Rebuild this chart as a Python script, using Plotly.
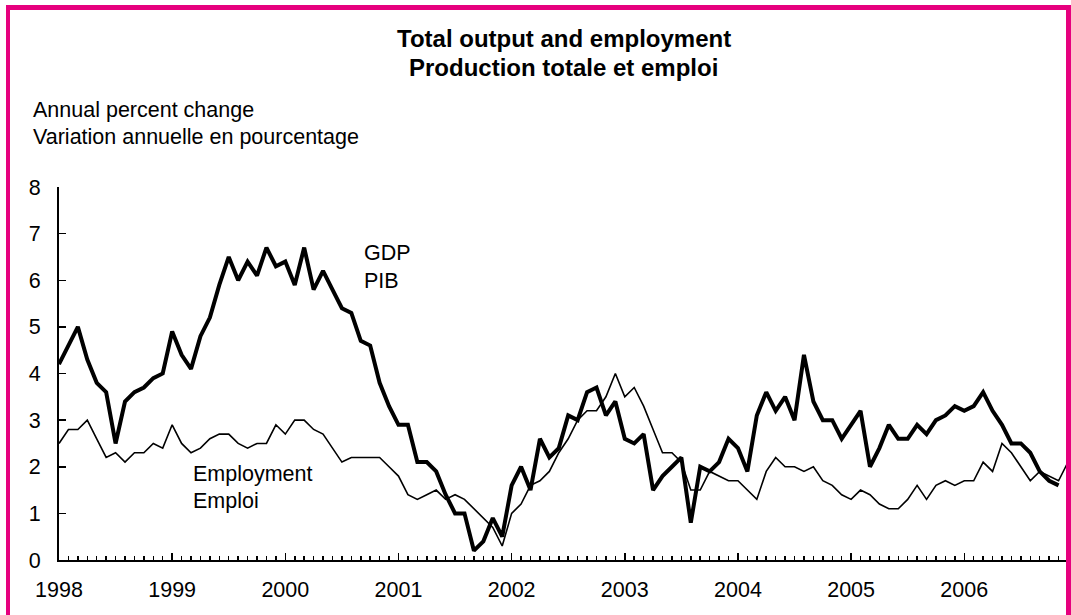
import plotly.graph_objects as go

years = ["1998", "1999", "2000", "2001", "2002", "2003", "2004", "2005", "2006"]

gdp = [4.2, 4.6, 5.0, 4.3, 3.8, 3.6, 2.5, 3.4, 3.6, 3.7, 3.9, 4.0,
       4.9, 4.4, 4.1, 4.8, 5.2, 5.9, 6.5, 6.0, 6.4, 6.1, 6.7, 6.3,
       6.4, 5.9, 6.7, 5.8, 6.2, 5.8, 5.4, 5.3, 4.7, 4.6, 3.8, 3.3,
       2.9, 2.9, 2.1, 2.1, 1.9, 1.4, 1.0, 1.0, 0.2, 0.4, 0.9, 0.5,
       1.6, 2.0, 1.5, 2.6, 2.2, 2.4, 3.1, 3.0, 3.6, 3.7, 3.1, 3.4,
       2.6, 2.5, 2.7, 1.5, 1.8, 2.0, 2.2, 0.8, 2.0, 1.9, 2.1, 2.6,
       2.4, 1.9, 3.1, 3.6, 3.2, 3.5, 3.0, 4.4, 3.4, 3.0, 3.0, 2.6,
       2.9, 3.2, 2.0, 2.4, 2.9, 2.6, 2.6, 2.9, 2.7, 3.0, 3.1, 3.3,
       3.2, 3.3, 3.6, 3.2, 2.9, 2.5, 2.5, 2.3, 1.9, 1.7, 1.6]

employment = [2.5, 2.8, 2.8, 3.0, 2.6, 2.2, 2.3, 2.1, 2.3, 2.3, 2.5, 2.4,
              2.9, 2.5, 2.3, 2.4, 2.6, 2.7, 2.7, 2.5, 2.4, 2.5, 2.5, 2.9,
              2.7, 3.0, 3.0, 2.8, 2.7, 2.4, 2.1, 2.2, 2.2, 2.2, 2.2, 2.0,
              1.8, 1.4, 1.3, 1.4, 1.5, 1.3, 1.4, 1.3, 1.1, 0.9, 0.7, 0.3,
              1.0, 1.2, 1.6, 1.7, 1.9, 2.3, 2.6, 3.0, 3.2, 3.2, 3.5, 4.0,
              3.5, 3.7, 3.3, 2.8, 2.3, 2.3, 2.1, 1.5, 1.5, 1.9, 1.8, 1.7,
              1.7, 1.5, 1.3, 1.9, 2.2, 2.0, 2.0, 1.9, 2.0, 1.7, 1.6, 1.4,
              1.3, 1.5, 1.4, 1.2, 1.1, 1.1, 1.3, 1.6, 1.3, 1.6, 1.7, 1.6,
              1.7, 1.7, 2.1, 1.9, 2.5, 2.3, 2.0, 1.7, 1.9, 1.8, 1.7, 2.1]

months_gdp = list(range(len(gdp)))
months_emp = list(range(len(employment)))
year_ticks = [12 * i for i in range(len(years))]

W, H = 1071, 615
L, R, T, B = 59, 3, 187, 55
PW, PH = W - L - R, H - T - B
PINK = "#E6007E"
FONT = "Arial, Liberation Sans, Helvetica, sans-serif"
FS = 21.5


def px(xp):
    return (xp - L) / PW


def py(yp):
    return (H - B - yp) / PH


fig = go.Figure()
fig.add_trace(go.Scatter(x=months_emp, y=employment, mode="lines",
                         line=dict(color="black", width=1.6), name="Employment"))
fig.add_trace(go.Scatter(x=months_gdp, y=gdp, mode="lines",
                         line=dict(color="black", width=4), name="GDP"))

fig.update_layout(
    width=W, height=H,
    margin=dict(l=L, r=R, t=T, b=B, autoexpand=False),
    paper_bgcolor="white", plot_bgcolor="white",
    showlegend=False,
    font=dict(family=FONT, size=FS, color="black"),
    xaxis=dict(range=[0, len(employment) - 1], tickvals=year_ticks, ticktext=years,
               ticks="inside", ticklen=7, tickwidth=1.5, tickcolor="black",
               showline=True, linecolor="black", linewidth=2,
               showgrid=False, zeroline=False, ticklabelstandoff=9,
               minor=dict(dtick=1, tick0=0, ticks="inside", ticklen=4,
                          tickwidth=1.5, tickcolor="black", showgrid=False),
               tickfont=dict(size=FS)),
    yaxis=dict(range=[0, 8], dtick=1, ticks="inside", ticklen=7, tickwidth=1.5,
               tickcolor="black", showline=True, linecolor="black", linewidth=2,
               showgrid=False, zeroline=False, ticklabelstandoff=12,
               tickfont=dict(size=FS)),
)

ann = [
    dict(text="<b>Total output and employment</b>", x=0.5, y=py(39), size=24, anchor="center"),
    dict(text="<b>Production totale et emploi</b>", x=0.5, y=py(67), size=24, anchor="center"),
    dict(text="Annual percent change", x=px(31), y=py(110), size=FS, anchor="left"),
    dict(text="Variation annuelle en pourcentage", x=px(31), y=py(137), size=FS, anchor="left"),
    dict(text="GDP", x=px(362), y=py(253), size=FS, anchor="left"),
    dict(text="PIB", x=px(362), y=py(281), size=FS, anchor="left"),
    dict(text="Employment", x=px(191), y=py(474), size=FS, anchor="left"),
    dict(text="Emploi", x=px(191), y=py(501), size=FS, anchor="left"),
]
for a in ann:
    fig.add_annotation(text=a["text"], x=a["x"], y=a["y"], xref="paper", yref="paper",
                       xanchor=a["anchor"], yanchor="middle", showarrow=False,
                       font=dict(size=a["size"], family=FONT, color="black"))

# pink frame (left, top, right)
for x0, y0, x1, y1 in [(6, 5, 10, H), (6, 5, W, 10), (1066, 5, W, H)]:
    fig.add_shape(type="rect", xref="paper", yref="paper",
                  x0=px(x0), x1=px(x1), y0=py(y1), y1=py(y0),
                  fillcolor=PINK, line=dict(width=0), layer="above")

fig.write_html("out.html",
               config={"displayModeBar": False, "staticPlot": True},
               post_script="document.body.style.margin='0px';"
                           "document.body.style.overflow='hidden';")
